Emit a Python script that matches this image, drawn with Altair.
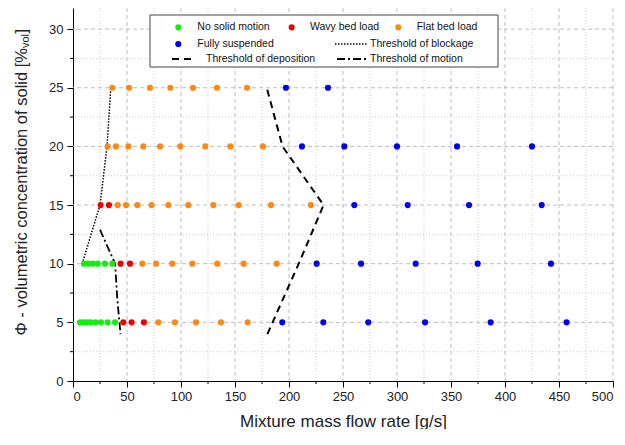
import altair as alt
import pandas as pd

# ---------------- data ----------------
conc_levels = [5, 10, 15, 20, 25]

no_motion_5 = [6.5, 10.2, 13.3, 16.4, 21.0, 25.9, 32.1, 38.9]
wavy_5 = [46.6, 54.3, 65.7]
flat_5 = [79.0, 94.4, 113.9, 137.0, 161.7]
susp_5 = [193.8, 231.8, 273.4, 326.0, 386.7, 457.0]

no_motion_10 = [10.2, 14.2, 18.2, 22.9, 29.6, 36.4]
wavy_10 = [44.1, 52.8]
flat_10 = [64.2, 76.9, 91.9, 110.5, 133.6, 158.0, 188.6]
susp_10 = [225.6, 266.7, 317.3, 374.7, 442.6]

wavy_15 = [25.6, 33.3]
flat_15 = [41.4, 49.1, 59.6, 72.8, 88.3, 106.8, 129.9, 153.4, 183.3, 220.2]
susp_15 = [260.5, 309.9, 366.7, 434.0]

flat_20 = [32.1, 39.8, 51.2, 65.1, 80.6, 99.4, 122.5, 145.7, 175.9]
susp_20 = [212.0, 251.2, 300.0, 355.6, 425.0]

flat_25 = [36.4, 51.9, 71.3, 90.1, 111.1, 133.3, 161.1]
susp_25 = [197.2, 236.1]

blockage_x = [8.5, 25.0, 31.5, 35.0]
blockage_y = [10, 15, 20, 25]
deposition_x = [180.0, 209.0, 232.0, 194.0, 179.4]
deposition_y = [4.0, 10.0, 15.0, 20.0, 25.0]
motion_x = [25.0, 39.0, 41.0, 44.0]
motion_y = [12.9, 10.0, 7.0, 4.0]

regimes = ["No solid motion", "Wavy bed load", "Flat bed load", "Fully suspended"]
regime_colors = ["#11ee11", "#ee0000", "#ff8811", "#0000ee"]

x_ticks = list(range(0, 501, 50))
y_ticks = [0, 5, 10, 15, 20, 25, 30]
x_minor = list(range(25, 500, 50))
y_minor = [2.5, 7.5, 12.5, 17.5, 22.5, 27.5]

# ---------------- tables ----------------
groups = [
    (no_motion_5, 5, regimes[0]), (wavy_5, 5, regimes[1]), (flat_5, 5, regimes[2]), (susp_5, 5, regimes[3]),
    (no_motion_10, 10, regimes[0]), (wavy_10, 10, regimes[1]), (flat_10, 10, regimes[2]), (susp_10, 10, regimes[3]),
    (wavy_15, 15, regimes[1]), (flat_15, 15, regimes[2]), (susp_15, 15, regimes[3]),
    (flat_20, 20, regimes[2]), (susp_20, 20, regimes[3]),
    (flat_25, 25, regimes[2]), (susp_25, 25, regimes[3]),
]
pts = pd.DataFrame([{"x": v, "y": c, "regime": r} for vals, c, r in groups for v in vals])

def line_df(xs, ys):
    return pd.DataFrame({"x": xs, "y": ys, "o": list(range(len(xs)))})

W, H = 540, 373
XD = [0, 500]
YD = [0, 31.8]
FONT = "Liberation Sans"

xs = alt.Scale(domain=XD, nice=False, zero=False)
ys = alt.Scale(domain=YD, nice=False, zero=False)

# grid
vgrid = pd.DataFrame({"x": list(range(25, 501, 25))})
vgrid["major"] = vgrid["x"] % 50 == 0
hgrid = pd.DataFrame({"y": [v * 2.5 for v in range(1, 13)]})
hgrid["major"] = hgrid["y"] % 5 == 0

vmaj = alt.Chart(vgrid[vgrid.major]).mark_rule(color="#bdbdbd", strokeDash=[4, 3], strokeWidth=1).encode(
    x=alt.X("x:Q", scale=xs))
vmin = alt.Chart(vgrid[~vgrid.major]).mark_rule(color="#cfcfcf", strokeDash=[1, 2], strokeWidth=1).encode(
    x=alt.X("x:Q", scale=xs))
hmaj = alt.Chart(hgrid[hgrid.major]).mark_rule(color="#bdbdbd", strokeDash=[4, 3], strokeWidth=1).encode(
    y=alt.Y("y:Q", scale=ys))
hmin = alt.Chart(hgrid[~hgrid.major]).mark_rule(color="#cfcfcf", strokeDash=[1, 2], strokeWidth=1).encode(
    y=alt.Y("y:Q", scale=ys))

# minor ticks
xminor_t = alt.Chart(pd.DataFrame({"x": x_minor})).mark_rule(color="black").encode(
    x=alt.X("x:Q", scale=xs), y=alt.value(H), y2=alt.value(H + 3))
yminor_t = alt.Chart(pd.DataFrame({"y": y_minor})).mark_rule(color="black").encode(
    y=alt.Y("y:Q", scale=ys), x=alt.value(-3), x2=alt.value(0))

# threshold lines
def thr(xs_, ys_, dash, width):
    return alt.Chart(line_df(xs_, ys_)).mark_line(color="black", strokeDash=dash, strokeWidth=width).encode(
        x=alt.X("x:Q", scale=xs), y=alt.Y("y:Q", scale=ys), order="o:Q")

blk = thr(blockage_x, blockage_y, [1.5, 1.5], 1.5)
dep = thr(deposition_x, deposition_y, [7, 5], 2)
mot = thr(motion_x, motion_y, [8, 3, 2, 3], 1.8)

points = alt.Chart(pts).mark_point(filled=True, shape="circle", size=38, opacity=1).encode(
    x=alt.X("x:Q", scale=xs,
            axis=alt.Axis(values=x_ticks, title="Mixture mass flow rate [g/s]", grid=False,
                          tickSize=6, labelFontSize=13, titleFontSize=17, titlePadding=10,
                          labelPadding=3, domainColor="black", tickColor="black",
                          labelFont=FONT, titleFont=FONT, labelColor="#222", titleColor="#222",
                          titleFontWeight="normal")),
    y=alt.Y("y:Q", scale=ys,
            axis=alt.Axis(values=y_ticks, title=None, grid=False, tickSize=6, labelFontSize=13,
                          labelPadding=4, domainColor="black", tickColor="black",
                          labelFont=FONT, labelColor="#222")),
    color=alt.Color("regime:N", scale=alt.Scale(domain=regimes, range=regime_colors), legend=None),
)

# y title with subscript
ytitle_main = alt.Chart(pd.DataFrame({"t": ["Φ - volumetric concentration of solid [%"]})).mark_text(
    angle=270, align="right", baseline="middle", fontSize=16.5, font=FONT, color="#222").encode(
    text="t:N", x=alt.value(-51), y=alt.value(40))
ytitle_sub = alt.Chart(pd.DataFrame({"t": ["vol"]})).mark_text(
    angle=270, align="right", baseline="middle", fontSize=11, font=FONT, color="#222").encode(
    text="t:N", x=alt.value(-47), y=alt.value(26))
ytitle_end = alt.Chart(pd.DataFrame({"t": ["]"]})).mark_text(
    angle=270, align="right", baseline="middle", fontSize=16.5, font=FONT, color="#222").encode(
    text="t:N", x=alt.value(-51), y=alt.value(21))

# legend (drawn in pixel space)
box = alt.Chart(pd.DataFrame({"a": [0]})).mark_rect(fill="white", stroke="#444", strokeWidth=1).encode(
    x=alt.value(77), x2=alt.value(425), y=alt.value(7), y2=alt.value(59))

leg_pts = pd.DataFrame({
    "lx": [105.3, 218.7, 325.3, 105.3],
    "ly": [19.3, 19.3, 19.3, 36],
    "regime": regimes,
})
leg_dots = alt.Chart(leg_pts).mark_point(filled=True, shape="circle", size=38, opacity=1).encode(
    x=alt.X("lx:Q", scale=None), y=alt.Y("ly:Q", scale=None),
    color=alt.Color("regime:N", scale=alt.Scale(domain=regimes, range=regime_colors), legend=None))

leg_txt = pd.DataFrame({
    "lx": [124.3, 237, 343.7, 124.3, 297, 133, 297],
    "ly": [19.3, 19.3, 19.3, 36, 36, 51, 51],
    "t": regimes + ["Threshold of  blockage", "Threshold of deposition", "Threshold of motion"],
})
leg_texts = alt.Chart(leg_txt).mark_text(align="left", baseline="middle", fontSize=10.5, font=FONT,
                                         color="#111").encode(
    x=alt.X("lx:Q", scale=None), y=alt.Y("ly:Q", scale=None), text="t:N")

def leg_line(x1, x2, yy, dash, width):
    return alt.Chart(pd.DataFrame({"a": [0]})).mark_rule(color="black", strokeDash=dash, strokeWidth=width).encode(
        x=alt.value(x1), x2=alt.value(x2), y=alt.value(yy))

ll1 = leg_line(262, 295, 36, [1.5, 1.5], 1.5)
ll2 = leg_line(99, 122, 51, [7, 5], 2)
ll3 = leg_line(264, 295, 51, [8, 3, 2, 3], 1.8)

chart = alt.layer(
    vmin, hmin, vmaj, hmaj, xminor_t, yminor_t,
    blk, dep, mot, points,
    box, leg_dots, leg_texts, ll1, ll2, ll3,
    ytitle_main, ytitle_sub, ytitle_end,
).properties(
    width=W, height=H,
    autosize=alt.AutoSizeParams(type="none"),
    padding={"left": 65, "top": 0, "right": 4, "bottom": 48},
).configure_view(stroke=None).configure_axis(labelFont=FONT, titleFont=FONT)

chart.save("out.html", embed_options={"renderer": "svg", "actions": False})
